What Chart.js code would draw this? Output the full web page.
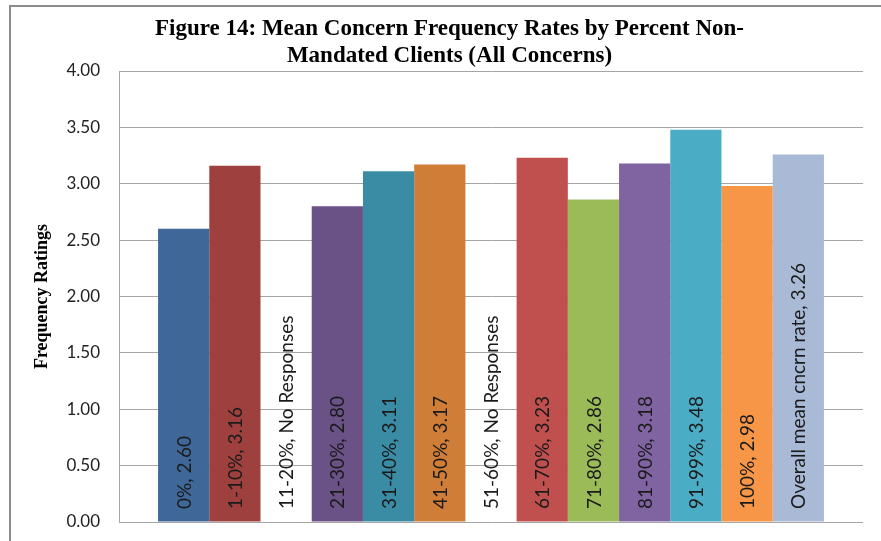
<!DOCTYPE html>
<html>
<head>
<meta charset="utf-8">
<script src="https://cdn.jsdelivr.net/npm/chart.js@4/dist/chart.umd.min.js"></script>
<style>
  html, body { margin: 0; padding: 0; background: #ffffff; }
  #wrap { position: relative; width: 881px; height: 541px; }
</style>
</head>
<body>
<div id="wrap"><canvas id="chart" width="881" height="541"></canvas></div>
<script>
// Percent non-mandated client groups and their mean concern frequency rating
const categories = ['0%', '1-10%', '11-20%', '21-30%', '31-40%', '41-50%', '51-60%',
                    '61-70%', '71-80%', '81-90%', '91-99%', '100%', 'Overall mean cncrn rate'];
const meanRates = [2.60, 3.16, null, 2.80, 3.11, 3.17, null, 3.23, 2.86, 3.18, 3.48, 2.98, 3.26];
const barColors = ['#3F6899', '#9E413E', '#ffffff', '#6A5186', '#3A8CA4', '#D07D38', '#ffffff',
                   '#C0504D', '#9BBB59', '#8064A2', '#4BACC6', '#F79646', '#A9BAD7'];
const yTicks = [0, 0.5, 1, 1.5, 2, 2.5, 3, 3.5, 4];
const titleLines = ['Figure 14: Mean Concern Frequency Rates by Percent Non-', 'Mandated Clients (All Concerns)'];
const yAxisTitle = 'Frequency Ratings';
const missingText = 'No Responses';

const labelFont = '19px Lato';

// Outer frame around the chart
const framePlugin = {
  id: 'frame',
  beforeDraw(chart) {
    const ctx = chart.ctx;
    ctx.save();
    ctx.fillStyle = '#ffffff';
    ctx.fillRect(0, 0, chart.width, chart.height);
    ctx.strokeStyle = '#8c8c8c';
    ctx.lineWidth = 2;
    ctx.beginPath();
    ctx.moveTo(10, chart.height);
    ctx.lineTo(10, 6);
    ctx.lineTo(chart.width, 6);
    ctx.stroke();
    ctx.restore();
  }
};

// Rotated "category, value" labels at the foot of each bar
const barLabelPlugin = {
  id: 'barLabels',
  afterDatasetsDraw(chart) {
    const ctx = chart.ctx;
    const bottom = chart.chartArea.bottom;
    ctx.save();
    ctx.font = labelFont;
    ctx.fillStyle = '#1a1a1a';
    ctx.textAlign = 'left';
    ctx.textBaseline = 'middle';
    chart.data.datasets.forEach((ds, i) => {
      const el = chart.getDatasetMeta(i).data[0];
      if (!el) return;
      const v = ds.data[0];
      const text = ds.label + ', ' + (v === null ? missingText : v.toFixed(2));
      ctx.save();
      ctx.translate(el.x + 1, bottom - 13);
      ctx.rotate(-Math.PI / 2);
      ctx.fillText(text, 0, 0);
      ctx.restore();
    });
    ctx.restore();
  }
};

const datasets = categories.map((name, i) => ({
  label: name,
  data: [meanRates[i]],
  backgroundColor: barColors[i],
  borderWidth: 0,
  barPercentage: 1.0,
  categoryPercentage: 0.895
}));

new Chart(document.getElementById('chart'), {
  type: 'bar',
  data: { labels: [''], datasets },
  plugins: [framePlugin, barLabelPlugin],
  options: {
    responsive: false,
    animation: false,
    devicePixelRatio: 1,
    layout: { padding: { left: 36, right: 18, top: 11, bottom: 19 } },
    plugins: {
      legend: { display: false },
      tooltip: { enabled: false },
      title: {
        display: true,
        text: titleLines,
        color: '#000000',
        font: { family: 'Liberation Serif', size: 23, weight: 'bold', lineHeight: '27px' },
        padding: { top: 5, bottom: 1 }
      }
    },
    scales: {
      x: { display: false },
      y: {
        min: 0,
        max: 4,
        afterBuildTicks(scale) { scale.ticks = yTicks.map(v => ({ value: v })); },
        afterFit(scale) {
          scale.width = 83;
          scale.paddingTop = 10;
          scale.paddingBottom = 10;
        },
        ticks: {
          color: '#222222',
          font: { family: 'Lato', size: 17 },
          padding: 19,
          callback: v => Number(v).toFixed(2)
        },
        grid: { color: '#a6a6a6', lineWidth: 1, drawTicks: false },
        border: { color: '#a6a6a6', width: 1 },
        title: {
          display: true,
          text: yAxisTitle,
          color: '#000000',
          font: { family: 'Liberation Serif', size: 18, weight: 'bold', lineHeight: 0.75 },
          padding: 0
        }
      }
    }
  }
});
</script>
</body>
</html>
